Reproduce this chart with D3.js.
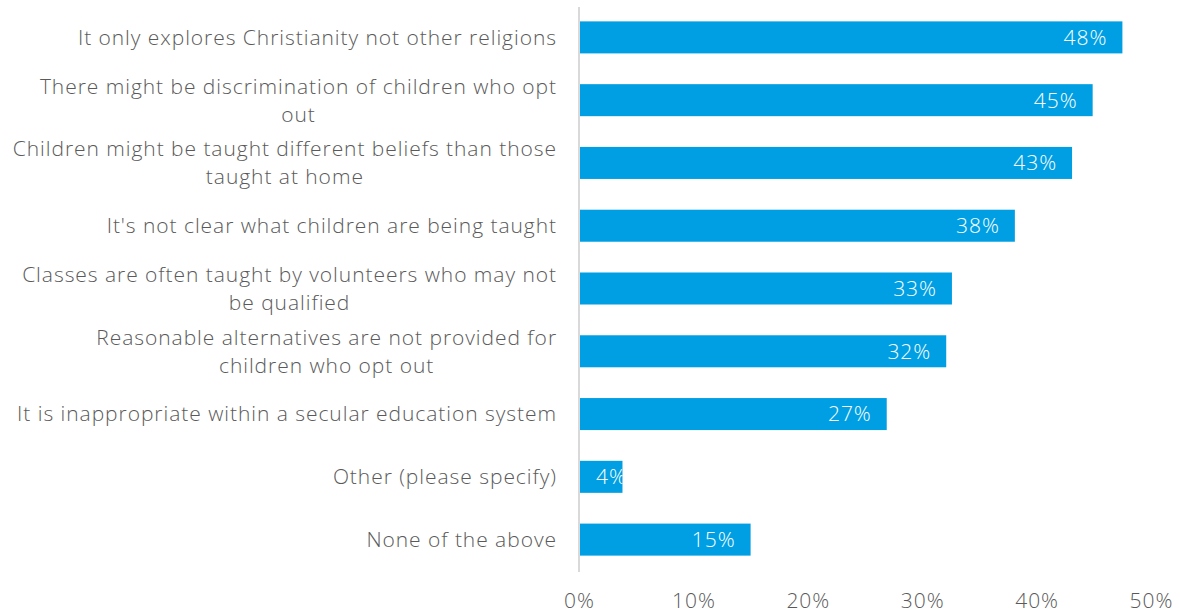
<!DOCTYPE html>
<html>
<head>
<meta charset="utf-8">
<script src="https://cdn.jsdelivr.net/npm/d3@7"></script>
<style>
  body { margin: 0; background: #fff; }
  text { font-family: "Open Sans", Lato, sans-serif; font-weight: 300; letter-spacing: 0.95px; }
</style>
</head>
<body>
<div id="chart"></div>
<script>
const categories = [
  "It only explores Christianity not other religions",
  "There might be discrimination of children who opt\nout",
  "Children might be taught different beliefs than those\ntaught at home",
  "It's not clear what children are being taught",
  "Classes are often taught by volunteers who may not\nbe qualified",
  "Reasonable alternatives are not provided for\nchildren who opt out",
  "It is inappropriate within a secular education system",
  "Other (please specify)",
  "None of the above"
];
const values = [47.5, 44.9, 43.1, 38.1, 32.6, 32.1, 26.9, 3.8, 15.0];
const xTicks = [0, 10, 20, 30, 40, 50];

const width = 1180;
const height = 614;
const x0 = 579, x1 = 1151;
const barColor = "#009fe3";
const textColor = "#5a5a5a";
const fontSize = "21px";

const svg = d3.select("#chart").append("svg")
  .attr("width", width)
  .attr("height", height);

const x = d3.scaleLinear().domain([0, 50]).range([x0, x1]);
const y = d3.scaleBand()
  .domain(categories)
  .range([6, 571])
  .paddingInner(0.49)
  .paddingOuter(0.245);

// Bars
svg.selectAll("rect.bar")
  .data(categories)
  .join("rect")
  .attr("class", "bar")
  .attr("x", x(0))
  .attr("y", d => y(d))
  .attr("width", (d, i) => x(values[i]) - x(0))
  .attr("height", y.bandwidth())
  .attr("fill", barColor);

// Vertical axis line
svg.append("line")
  .attr("x1", x(0)).attr("x2", x(0))
  .attr("y1", 7).attr("y2", 572)
  .attr("stroke", "#d9d9d9")
  .attr("stroke-width", 2);

// Category labels (lines centered within a right-aligned block)
const labelRight = 557;
const lineH = 28;
categories.forEach(cat => {
  const lines = cat.split("\n");
  const cy = y(cat) + y.bandwidth() / 2;
  const g = svg.append("g");
  const texts = lines.map((ln, j) => g.append("text")
    .attr("y", cy + (j - (lines.length - 1) / 2) * lineH)
    .attr("dy", "0.35em")
    .attr("text-anchor", "middle")
    .attr("fill", textColor)
    .style("font-size", fontSize)
    .text(ln));
  const maxW = d3.max(texts, t => t.node().getComputedTextLength());
  texts.forEach(t => t.attr("x", labelRight - maxW / 2));
});

// Value labels inside bars
const clip = svg.append("defs");
categories.forEach((cat, i) => {
  clip.append("clipPath").attr("id", "clip" + i)
    .append("rect")
    .attr("x", x(0)).attr("y", y(cat))
    .attr("width", x(values[i]) - x(0)).attr("height", y.bandwidth());
  const t = svg.append("text")
    .attr("clip-path", `url(#clip${i})`)
    .attr("y", y(cat) + y.bandwidth() / 2)
    .attr("dy", "0.35em")
    .attr("text-anchor", "end")
    .attr("fill", "#fff")
    .style("font-size", fontSize)
    .text(Math.round(values[i]) + "%");
  const w = t.node().getComputedTextLength();
  t.attr("x", Math.max(x(values[i]) - 15, x(0) + 17 + w));
});

// X axis tick labels
svg.append("g")
  .attr("transform", `translate(0,601)`)
  .call(d3.axisBottom(x).tickValues(xTicks).tickSize(0).tickPadding(0).tickFormat(d => d + "%"))
  .call(g => g.select(".domain").remove())
  .call(g => g.selectAll("text")
    .attr("dy", "0.35em")
    .attr("fill", textColor)
    .style("font-size", fontSize)
    .style("font-family", "'Open Sans', Lato, sans-serif")
    .style("font-weight", 300));
</script>
</body>
</html>
